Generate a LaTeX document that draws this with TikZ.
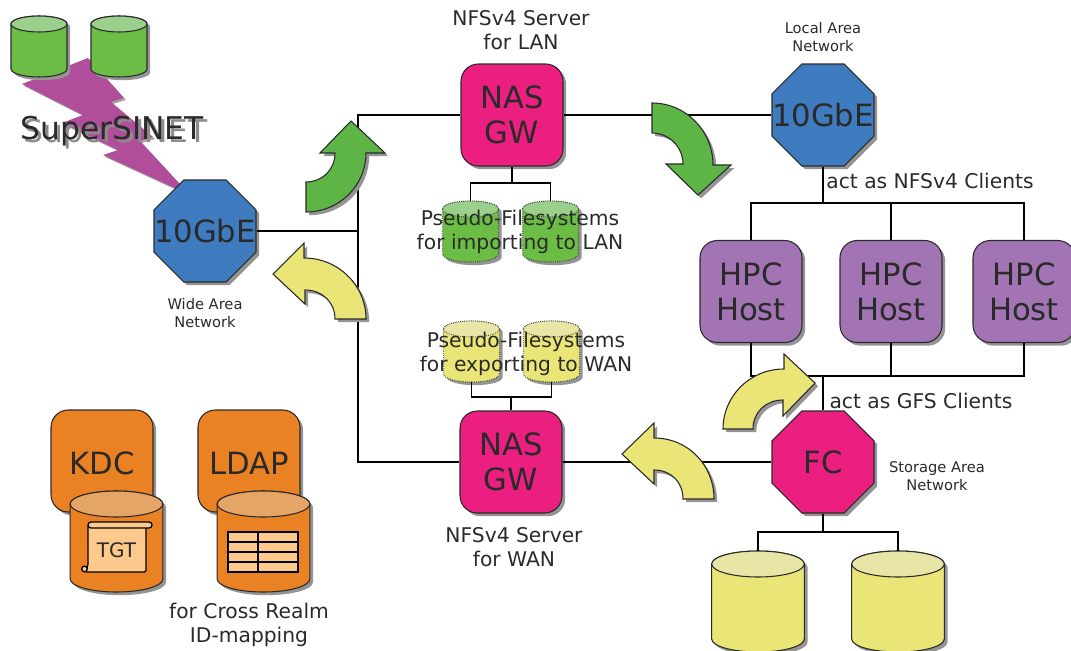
\documentclass[tikz,border=0pt]{standalone}
\usepackage{fontspec}
\setmainfont{DejaVu Sans}
\usepackage{xcolor}
\usetikzlibrary{shapes.geometric, shadows}

\definecolor{inkdark}{HTML}{2A2A2A}
\definecolor{wanblue}{HTML}{3F7CBF}
\definecolor{hotpink}{HTML}{EA1F80}
\definecolor{hpcpurple}{HTML}{A374B4}
\definecolor{boltpurple}{HTML}{B04E9C}
\definecolor{kdcorange}{HTML}{EA8122}
\definecolor{kdctop}{HTML}{E5A566}
\definecolor{paperorange}{HTML}{FDC98D}
\definecolor{diskgreen}{HTML}{6CBD45}
\definecolor{disktopgreen}{HTML}{9BCF8C}
\definecolor{arrowgreen}{HTML}{5DB546}
\definecolor{diskyellow}{HTML}{E9E577}
\definecolor{disktopyellow}{HTML}{E8E6A6}

\tikzset{
    softshadow/.style={drop shadow={shadow xshift=2.4pt,shadow yshift=-2.4pt,fill=black!42,opacity=1}},
    bigtext/.style={font=\fontsize{23}{26}\selectfont,text=inkdark,align=center},
    midtext/.style={font=\fontsize{15.2}{18}\selectfont,text=inkdark,align=center},
    smalltext/.style={font=\fontsize{11}{13.5}\selectfont,text=inkdark,align=center},
    octbox/.style={regular polygon,regular polygon sides=8,minimum size=82.8pt,inner sep=0pt,
        draw=inkdark,line width=0.8pt,softshadow},
    roundbox/.style={rounded corners=13pt,minimum size=76.5pt,inner sep=0pt,
        draw=inkdark,line width=0.8pt,softshadow,bigtext},
    bentarrow/.style={draw=inkdark,line width=0.8pt,softshadow},
    wire/.style={line width=1.25pt,black},
    % x radius, y radius, height, body colour, lid colour
    pics/storedisk/.style n args={5}{code={
        \pgfmathsetmacro\lidY{-#3/2+#2}
        \pgfmathsetmacro\baseY{#3/2-#2}
        \coordinate (-top) at (0,-#3/2);
        \coordinate (-bottom) at (0,#3/2);
        \draw[line width=0.8pt,draw=inkdark,softshadow,fill=#4] (-#1,\lidY) -- (-#1,\baseY)
            arc[start angle=180,end angle=0,x radius=#1,y radius=#2] -- (#1,\lidY)
            arc[start angle=0,end angle=-180,x radius=#1,y radius=#2] -- cycle;
        \draw[line width=0.8pt,draw=inkdark,fill=#5] (0,\lidY) ellipse [x radius=#1,y radius=#2];
    }},
}

\begin{document}
\begin{tikzpicture}[x=0.75pt,y=-0.75pt]
    \useasboundingbox (0,0) rectangle (1071,650);

    % SuperSINET bolt, behind the two disks
    \fill[boltpurple,drop shadow={shadow xshift=1.5pt,shadow yshift=-1.5pt,fill=black!35,opacity=1}]
        (88,58) -- (124,98) -- (111,102) -- (153,137) -- (140,141) -- (190,195) -- (103,155)
        -- (118,150) -- (62,123) -- (83,115) -- (22,84) -- cycle;
    \pic (netDiskA) at (39,46.5) {storedisk={28}{8}{61}{diskgreen}{disktopgreen}};
    \pic (netDiskB) at (119,46.5) {storedisk={28}{8}{61}{diskgreen}{disktopgreen}};
    \node[font=\fontsize{23.5}{28}\selectfont,text=black!45] (netShadow) at (115.5,134) {SuperSINET};
    \node[font=\fontsize{23.5}{28}\selectfont,text=inkdark] (netLabel) at (112,131) {SuperSINET};

    % switches
    \node[octbox,fill=wanblue] (wan) at (205,231) {};
    \node[octbox,fill=wanblue] (lan) at (823,115) {};
    \node[octbox,fill=hotpink] (fc) at (823,462) {};
    \node[bigtext] (wanLabel) at (wan) {10GbE};
    \node[bigtext] (lanLabel) at (lan) {10GbE};
    \node[bigtext] (fcLabel) at (fc) {FC};

    % gateways and hosts
    \node[roundbox,fill=hotpink] (nasLan) at (512,115) {NAS\\GW};
    \node[roundbox,fill=hotpink] (nasWan) at (511,462) {NAS\\GW};
    \node[roundbox,fill=hpcpurple] (hpcA) at (751,291.5) {HPC\\Host};
    \node[roundbox,fill=hpcpurple] (hpcB) at (891,291.5) {HPC\\Host};
    \node[roundbox,fill=hpcpurple] (hpcC) at (1024,291.5) {HPC\\Host};

    % pseudo filesystems
    \pic[densely dotted] (lanPseudoA) at (470.5,231.5) {storedisk={28}{8}{61}{diskgreen}{disktopgreen}};
    \pic[densely dotted] (lanPseudoB) at (550.5,231.5) {storedisk={28}{8}{61}{diskgreen}{disktopgreen}};
    \pic[densely dotted] (wanPseudoA) at (471.5,351.5) {storedisk={28}{8}{61}{diskyellow}{disktopyellow}};
    \pic[densely dotted] (wanPseudoB) at (551.5,351.5) {storedisk={28}{8}{61}{diskyellow}{disktopyellow}};

    % SAN disks
    \pic (sanDiskA) at (758,601.5) {storedisk={46.3}{13}{101}{diskyellow}{disktopyellow}};
    \pic (sanDiskB) at (898,601.5) {storedisk={46.3}{13}{101}{diskyellow}{disktopyellow}};

    % KDC and LDAP with their stores
    \node[roundbox,fill=kdcorange] (kdc) at (102,461) {};
    \node[roundbox,fill=kdcorange] (ldap) at (249,461) {};
    \node[bigtext] (kdcLabel) at (102,463) {KDC};
    \node[bigtext] (ldapLabel) at (249,463) {LDAP};
    \pic (kdcDisk) at (116.5,541.5) {storedisk={46.3}{13}{101}{kdcorange}{kdctop}};
    \pic (ldapDisk) at (263.5,541.5) {storedisk={46.3}{13}{101}{kdcorange}{kdctop}};

    % the ticket scroll
    \draw[fill=paperorange,line width=1pt,rounded corners=1.5pt] (88,525) -- (146,525) -- (146,572) -- (85,572) -- (88,566) -- cycle;
    \draw[fill=paperorange,line width=1pt,rounded corners=2.2pt] (88,522) rectangle (152,528);
    \draw[fill=paperorange,line width=1pt] (84.5,569) circle (2.8);
    \node[font=\fontsize{15}{18}\selectfont,text=inkdark] (tgtLabel) at (116.5,550) {TGT};

    % the id-mapping table
    \draw[fill=paperorange,line width=1pt] (228,532) rectangle (298,572);
    \foreach \rowy in {542,552,562} {
        \draw[line width=1pt] (228,\rowy) -- (298,\rowy);
    }
    \draw[line width=1pt] (258,532) -- (258,572);

    % junctions
    \coordinate (wanBus) at (358,231);
    \coordinate (lanFork) at (512,183);
    \coordinate (wanFork) at (511,397);
    \coordinate (hpcTop) at (823,203);
    \coordinate (hpcBottom) at (823,376);
    \coordinate (sanFork) at (823,532);

    % connectors
    \draw[wire] (wan.east) -- (wanBus);
    \draw[wire] (nasLan.west) -| (wanBus) |- (nasWan.west);
    \draw[wire] (nasLan.east) -- (lan.west);
    \draw[wire] (nasWan.east) -- (fc.west);
    \draw[wire] (nasLan.south) -- (lanFork);
    \draw[wire] (lanPseudoA-top) |- (lanFork) -| (lanPseudoB-top);
    \draw[wire] (nasWan.north) -- (wanFork);
    \draw[wire] (wanPseudoA-bottom) |- (wanFork) -| (wanPseudoB-bottom);
    \draw[wire] (lan.south) -- (hpcTop);
    \draw[wire] (hpcA.north) |- (hpcTop) -| (hpcC.north);
    \draw[wire] (hpcB.north) -- (hpcB.north |- hpcTop);
    \draw[wire] (fc.north) -- (hpcBottom);
    \draw[wire] (hpcA.south) |- (hpcBottom) -| (hpcC.south);
    \draw[wire] (hpcB.south) -- (hpcB.south |- hpcBottom);
    \draw[wire] (fc.south) -- (sanFork);
    \draw[wire] (sanDiskA-top) |- (sanFork) -| (sanDiskB-top);

    % big bent arrows
    \draw[bentarrow,fill=arrowgreen] (306,212) .. controls (340,212) and (366,185) .. (366,153)
        -- (385,153) -- (351,121) -- (320,153) -- (335,153) .. controls (335,170) and (322,182) .. (306,182) -- cycle;
    \draw[bentarrow,fill=arrowgreen] (652,103) .. controls (686,103) and (713,131) .. (713,165)
        -- (731,165) -- (698,195) -- (666,164) -- (683,164) .. controls (683,147) and (669,133) .. (652,133) -- cycle;
    \draw[bentarrow,fill=diskyellow] (273,274) -- (304,243) -- (304,258) .. controls (338,258) and (366,285) .. (366,319)
        -- (335,319) .. controls (335,302) and (322,290) .. (305,290) -- (305,304) -- cycle;
    \draw[bentarrow,fill=diskyellow] (622,454) -- (654,423) -- (654,438) .. controls (688,438) and (714,465) .. (714,499)
        -- (683,499) .. controls (683,482) and (671,470) .. (654,470) -- (654,484) -- cycle;
    \draw[bentarrow,fill=diskyellow] (723,429) .. controls (723,396) and (750,369) .. (784,369) -- (784,354) -- (815,383)
        -- (783,416) -- (783,400) .. controls (766,400) and (753,412) .. (753,429) -- cycle;

    % labels
    \node[smalltext] (wanNote) at (205,313) {Wide Area\\Network};
    \node[smalltext] (lanNote) at (823,37) {Local Area\\Network};
    \node[smalltext] (sanNote) at (937,476) {Storage Area\\Network};
    \node[midtext] (nasLanNote) at (521,30) {NFSv4 Server\\for LAN};
    \node[midtext] (nasWanNote) at (514,547) {NFSv4 Server\\for WAN};
    \node[midtext] (lanPseudoNote) at (520,232) {Pseudo-Filesystems\\for importing to LAN};
    \node[midtext] (wanPseudoNote) at (526,354) {Pseudo-Filesystems\\for exporting to WAN};
    \node[midtext] (nfsClients) at (930,181) {act as NFSv4 Clients};
    \node[midtext] (gfsClients) at (921,401) {act as GFS Clients};
    \node[midtext] (ldapNote) at (249,625) {for Cross Realm\\ID-mapping};
\end{tikzpicture}
\end{document}
